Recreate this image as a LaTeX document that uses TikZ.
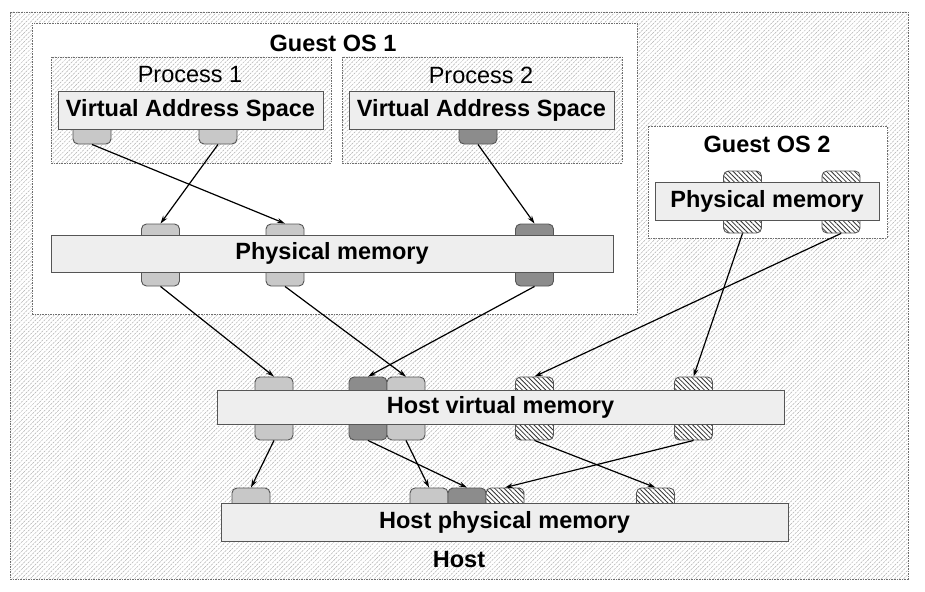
\documentclass[tikz,border=0pt]{standalone}
\usepackage{fontspec}
\setmainfont{Liberation Sans}
\usetikzlibrary{arrows.meta,patterns.meta}
\definecolor{barfill}{RGB}{238,238,238}
\definecolor{barline}{RGB}{85,85,85}
\definecolor{boxline}{RGB}{110,110,110}
\definecolor{hatchgray}{RGB}{175,175,175}
\definecolor{tablight}{RGB}{200,200,200}
\definecolor{tabdark}{RGB}{140,140,140}
\newcommand{\bigtxt}{\fontsize{23.5}{28}\selectfont}
\tikzset{
	box/.style={draw=boxline, line width=0.8pt, dash pattern=on 1.6pt off 1pt, inner sep=0pt},
	hatched/.style={pattern={Lines[angle=45,distance=3.2pt,line width=0.5pt]}, pattern color=hatchgray},
	bar/.style={draw=barline, fill=barfill, line width=1pt, inner sep=0pt, font=\bigtxt\bfseries},
	tab/.style={draw=barline, line width=0.9pt, rounded corners=5pt, minimum width=38pt, inner sep=0pt},
	tablt/.style={tab, fill=tablight},
	tabdk/.style={tab, fill=tabdark},
	tabhs/.style={tab, preaction={fill=white}, pattern={Lines[angle=-45,distance=3.3pt,line width=0.8pt]}, pattern color=black!80},
	link/.style={-{Stealth[length=8pt,width=5pt]}, line width=1.2pt},
	lbl/.style={font=\bigtxt\bfseries}
}
\begin{document}
\begin{tikzpicture}[x=1pt,y=-1pt]
	\useasboundingbox (0,0) rectangle (925,591);
	\node[box, hatched, minimum width=898pt, minimum height=567pt] (host) at (459,295.5) {};
	\node[box, fill=white, minimum width=605pt, minimum height=291pt] (gos1) at (334.5,168.5) {};
	\node[box, hatched, minimum width=280pt, minimum height=106pt] (proc1) at (191,110) {};
	\node[box, hatched, minimum width=280pt, minimum height=106pt] (proc2) at (482,110) {};
	\node[box, fill=white, minimum width=239pt, minimum height=112pt] (gos2) at (767.5,182) {};

	\node[lbl] (gos1lbl) at (333,43) {Guest OS 1};
	\node[font=\bigtxt] (proc1lbl) at (190,75) {Process 1};
	\node[font=\bigtxt] (proc2lbl) at (481,75) {Process 2};
	\node[lbl] (gos2lbl) at (767,144) {Guest OS 2};
	\node[lbl] (hostlbl) at (459,560) {Host};

	% tabs sit behind the bars
	\node[tablt, minimum height=29pt] (a1) at (92,129.5) {};
	\node[tablt, minimum height=29pt] (a2) at (218,129.5) {};
	\node[tabdk, minimum height=29pt] (a3) at (478,129.5) {};
	\node[tablt, minimum height=62pt] (pA) at (160.5,255) {};
	\node[tablt, minimum height=62pt] (pB) at (285,255) {};
	\node[tabdk, minimum height=62pt] (pC) at (534.5,255) {};
	\node[tabhs, minimum height=62pt] (gA) at (742.5,202) {};
	\node[tabhs, minimum height=62pt] (gB) at (841,202) {};
	\node[tablt, minimum height=63pt] (hA) at (274,408.5) {};
	\node[tabdk, minimum height=63pt] (hB) at (368,408.5) {};
	\node[tablt, minimum height=63pt] (hC) at (406,408.5) {};
	\node[tabhs, minimum height=63pt] (hD) at (534.5,408.5) {};
	\node[tabhs, minimum height=63pt] (hE) at (693.5,408.5) {};
	\node[tablt, minimum height=30pt] (qA) at (251,503) {};
	\node[tablt, minimum height=30pt] (qB) at (429,503) {};
	\node[tabdk, minimum height=30pt] (qC) at (467,503) {};
	\node[tabhs, minimum height=30pt] (qD) at (505,503) {};
	\node[tabhs, minimum height=30pt] (qE) at (655.5,503) {};

	\node[bar, minimum width=265pt, minimum height=37pt] (vas1) at (190.5,110.5) {Virtual Address Space};
	\node[bar, minimum width=265pt, minimum height=37pt] (vas2) at (481.5,110.5) {Virtual Address Space};
	\node[bar, minimum width=562pt, minimum height=37pt] (pmem) at (332,253.5) {Physical memory};
	\node[bar, minimum width=224pt, minimum height=38pt] (gpmem) at (767,201) {Physical memory};
	\node[bar, minimum width=567pt, minimum height=34pt] (hvmem) at (500.5,407) {Host virtual memory};
	\node[bar, minimum width=567pt, minimum height=38pt] (hpmem) at (504.5,522) {Host physical memory};

	\draw[link] (a1.south) -- (pB.north);
	\draw[link] (a2.south) -- (pA.north);
	\draw[link] (a3.south) -- (pC.north);
	\draw[link] (pA.south) -- (hA.north);
	\draw[link] (pB.south) -- (hC.north);
	\draw[link] (pC.south) -- (hB.north);
	\draw[link] (gA.south) -- (hE.north);
	\draw[link] (gB.south) -- (hD.north);
	\draw[link] (hA.south) -- (qA.north);
	\draw[link] (hB.south) -- (qC.north);
	\draw[link] (hC.south) -- (qB.north);
	\draw[link] (hD.south) -- (qE.north);
	\draw[link] (hE.south) -- (qD.north);
\end{tikzpicture}
\end{document}
